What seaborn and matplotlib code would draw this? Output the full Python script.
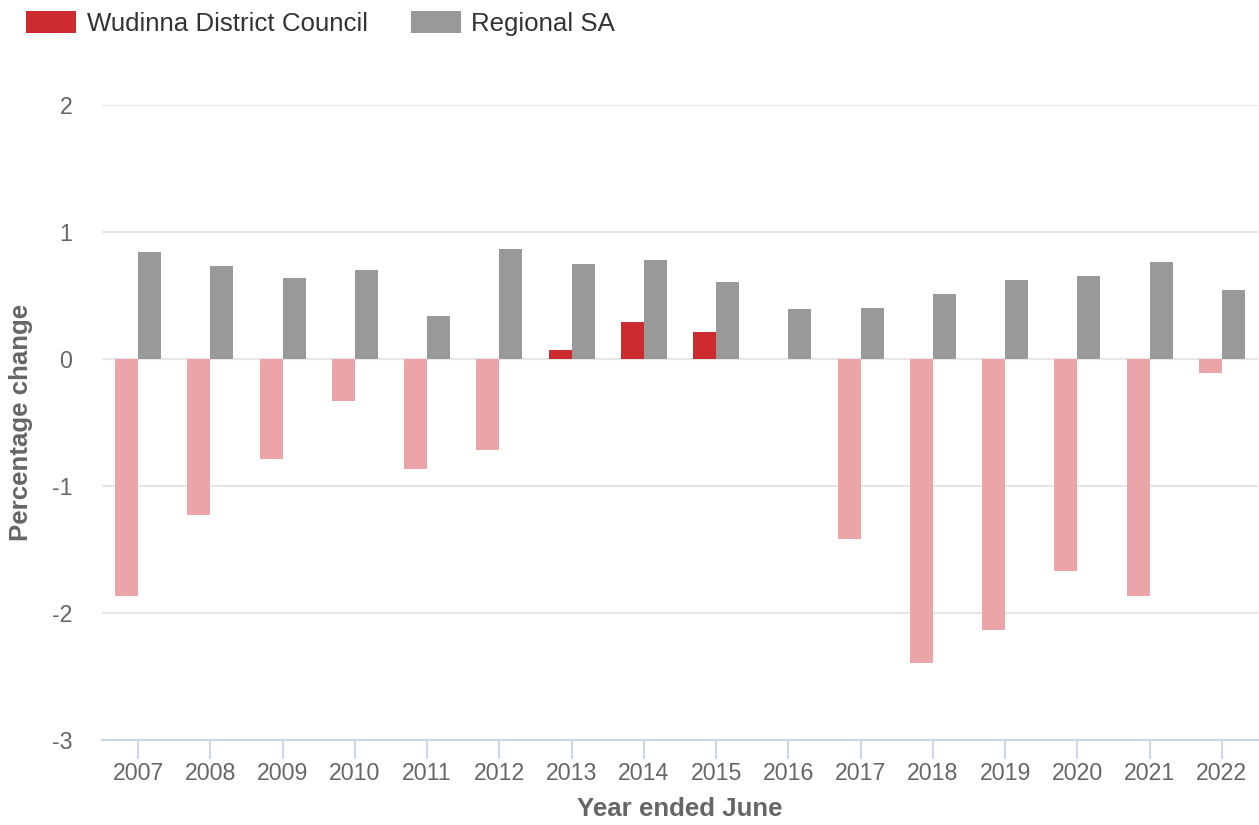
import matplotlib
matplotlib.use("Agg")
import matplotlib.pyplot as plt
from matplotlib.patches import Patch
import seaborn as sns
import pandas as pd

years = ["2007", "2008", "2009", "2010", "2011", "2012", "2013", "2014",
         "2015", "2016", "2017", "2018", "2019", "2020", "2021", "2022"]
wudinna = [-1.87, -1.23, -0.79, -0.33, -0.87, -0.72, 0.07, 0.29,
           0.21, 0.0, -1.42, -2.39, -2.13, -1.67, -1.87, -0.11]
regional = [0.84, 0.73, 0.64, 0.70, 0.34, 0.87, 0.75, 0.78,
            0.61, 0.39, 0.40, 0.51, 0.62, 0.65, 0.76, 0.54]
series_names = ["Wudinna District Council", "Regional SA"]

RED = "#cc2b30"
PINK = "#eba5a8"
GRAY = "#999999"
TXT = "#666666"

df = pd.DataFrame({
    "year": years * 2,
    "value": wudinna + regional,
    "series": [series_names[0]] * len(years) + [series_names[1]] * len(years),
})

sns.set_theme(style="white")
plt.rcParams["font.family"] = ["Liberation Sans", "DejaVu Sans"]

fig = plt.figure(figsize=(12.59, 8.25), dpi=100)
ax = fig.add_axes([102 / 1259, 1 - 740 / 825, 1156 / 1259, 635 / 825])

sns.barplot(data=df, x="year", y="value", hue="series", order=years,
            hue_order=series_names, palette=[RED, GRAY], width=0.64,
            saturation=1, ax=ax, legend=False, linewidth=0)

for bar in ax.containers[0]:
    if bar.get_height() < 0:
        bar.set_facecolor(PINK)

ax.set_ylim(-3, 2)
ax.set_xlim(-0.5, len(years) - 0.5)
ax.set_yticks([-3, -2, -1, 0, 1, 2])
ax.set_yticklabels(["-3", "-2", "-1", "0", "1", "2"])
ax.set_axisbelow(True)
ax.yaxis.grid(True, color="#e6e6e6", linewidth=1.5)
ax.xaxis.grid(False)
for s in ["top", "right", "left"]:
    ax.spines[s].set_visible(False)
ax.spines["bottom"].set_color("#ccd6eb")
ax.spines["bottom"].set_linewidth(1.5)

ax.tick_params(axis="x", bottom=True, direction="out", colors="#ccd6eb",
               length=14, width=1.5, pad=2, labelcolor=TXT, labelsize=16.7)
ax.tick_params(axis="y", left=False, length=0, pad=21.5, labelcolor=TXT,
               labelsize=16.7)

ax.set_xlabel("Year ended June", fontsize=18.6, fontweight="bold", color=TXT)
ax.set_ylabel("Percentage change", fontsize=18.6, fontweight="bold", color=TXT)
ax.xaxis.set_label_coords(0.5, -0.090)
ax.yaxis.set_label_coords(-0.06, 0.5)

handles = [Patch(facecolor=RED, edgecolor="none"), Patch(facecolor=GRAY, edgecolor="none")]
fig.legend(handles, series_names, loc="upper left", bbox_to_anchor=(8 / 1259, 1.008),
           ncol=2, frameon=False, fontsize=18.6, handlelength=1.95, handleheight=0.93,
           handletextpad=0.39, columnspacing=1.67, labelcolor="#333333",
           borderaxespad=0.3)

fig.savefig("out.png", dpi=100)
